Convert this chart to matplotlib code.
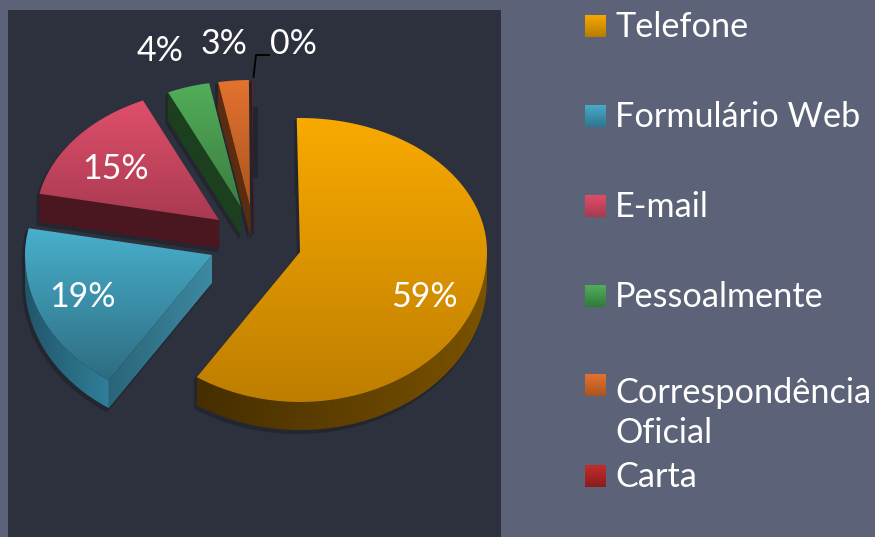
import numpy as np
import matplotlib
matplotlib.use("Agg")
import matplotlib.pyplot as plt
from matplotlib.colors import LinearSegmentedColormap
from matplotlib.patches import Polygon, Rectangle

categories = ["Telefone", "Formulário Web", "E-mail", "Pessoalmente", "Correspondência\nOficial", "Carta"]
shares = [59.3, 18.9, 15.0, 3.9, 2.8, 0.1]

# style per slice: top colour, bottom colour, rim colours (light, dark)
top_hi = ["#F9AA00", "#48B0CC", "#E04F6C", "#52AE5A", "#E4722F", "#6A2228"]
top_lo = ["#BE7E00", "#2E6C82", "#A83A50", "#3C7C41", "#A9551F", "#5A1C22"]
rim_a = ["#7A5200", "#2F7F98", "#4A1620", "#1C3F1E", "#5A2C10", "#3A1418"]
rim_b = ["#452E00", "#22566A", "#4A1620", "#1C3F1E", "#5A2C10", "#3A1418"]
swatch_hi = ["#F7A800", "#48ACC8", "#DE4E68", "#52AE5A", "#E4722F", "#C42C2C"]
swatch_lo = ["#B97B00", "#2F7590", "#A83A50", "#2F7A3A", "#A9551F", "#8A1C1C"]

# where each slice apex sits, and its radius scale
apex_x = [300, 212, 219, 241, 250, 253]
apex_y = [252, 255, 220, 207, 206, 206]
scale = [1.0, 1.0, 0.98, 0.94, 0.94, 0.94]
RX, RY_BACK, RY_FRONT, DEPTH = 187, 134, 150, 28

label_x = [424, 82, 116, 160, 224, 293]
label_y = [297, 297, 169, 51, 44, 44]
swatch_y = [37, 127, 217, 307, 396, 487]
legend_y = [37, 127, 217, 307, 443, 487]

BG = "#5C6277"
PANEL = "#2D313D"
SHADOW = "#22252E"
FONT = "Lato"

fig = plt.figure(figsize=(8.75, 5.37), dpi=100, facecolor=BG)
ax = fig.add_axes([0, 0, 1, 1])
ax.set_xlim(0, 875)
ax.set_ylim(537, 0)
ax.axis("off")
ax.add_patch(Rectangle((8, 10), 493, 527, fc=PANEL, ec="none", zorder=1))


def arc(i, a0, a1, drop=0):
    # angles in degrees clockwise from the top
    t = np.radians(np.linspace(a0, a1, max(int(abs(a1 - a0)) * 2, 2)))
    ry = np.where(np.cos(t) > 0, RY_BACK, RY_FRONT)
    xs = apex_x[i] + scale[i] * RX * np.sin(t)
    ys = apex_y[i] - scale[i] * ry * np.cos(t) + drop
    return np.column_stack([xs, ys])


def gradient(pts, c0, c1, z, horizontal=False):
    pts = np.asarray(pts)
    x0, y0 = pts.min(axis=0)
    x1, y1 = pts.max(axis=0)
    cmap = LinearSegmentedColormap.from_list("g", [c0, c1])
    ramp = np.linspace(0, 1, 256)
    ramp = ramp[None, :] if horizontal else ramp[:, None]
    im = ax.imshow(ramp, cmap=cmap, extent=(x0, x1, y1, y0), aspect="auto", zorder=z, interpolation="bilinear")
    im.set_clip_path(Polygon(pts, closed=True, transform=ax.transData))


def shadow(pts, z):
    ax.add_patch(Polygon(np.asarray(pts) + [-2, 3], closed=True, fc=SHADOW, ec=SHADOW, lw=1.5, alpha=0.8, zorder=z))


# faint dark marks behind the slices
ax.add_patch(Rectangle((252, 107), 6, 71, fc=SHADOW, ec="none", zorder=1.5))
ax.add_patch(Rectangle((294, 145), 4, 50, fc="#282B35", ec="none", zorder=1.5))

ends = np.cumsum(shares) * 3.6
starts = np.concatenate([[-1], ends[:-1]])  # the big slice leans slightly past the top
draw_order = [5, 4, 3, 2, 1, 0]  # far slices first, big slice last

for rank, i in enumerate(draw_order):
    z = 2 + rank
    top = np.vstack([[[apex_x[i], apex_y[i]]], arc(i, starts[i], ends[i])])

    # cut face on the start edge (the big slice starts at the back, so it has none)
    if i > 0:
        first = arc(i, starts[i], starts[i] + 1)[0]
        apex = [apex_x[i], apex_y[i]]
        face = [apex, first, first + [0, DEPTH], [apex[0], apex[1] + DEPTH]]
        shadow(face, z)
        if i == 1:
            gradient(face, "#2A6478", "#3E8AA2", z + 0.2, horizontal=True)
        else:
            ax.add_patch(Polygon(face, closed=True, fc=rim_a[i], ec=rim_a[i], lw=0.5, zorder=z + 0.2))

    # outer rim, only on the front half
    a0 = max(starts[i], 90)
    a1 = min(ends[i], 270)
    if a1 > a0:
        upper = arc(i, a0, a1)
        rim = np.vstack([upper, arc(i, a1, a0, drop=DEPTH)])
        shadow(rim, z)
        gradient(rim, rim_b[i], rim_a[i], z + 0.3, horizontal=True)

    shadow(top, z - 0.1)
    gradient(top, top_hi[i], top_lo[i], z + 0.5)

# leader line of the smallest slice
leader_x = [269, 256, apex_x[5] + 0.5]
leader_y = [55, 55, 77]
ax.plot(leader_x, leader_y, color="black", lw=1.3, zorder=20, solid_joinstyle="miter")

for x, y, v in zip(label_x, label_y, shares):
    ax.text(x, y, f"{v:.0f}%", color="white", fontsize=24.5, family=FONT, ha="center", va="center", zorder=21)

for y, c0, c1 in zip(swatch_y, swatch_hi, swatch_lo):
    gradient([(585, y - 22), (606, y - 22), (606, y), (585, y)], c0, c1, 10)

for y, name in zip(legend_y, categories):
    ax.text(615, y, name, color="white", fontsize=24.7, family=FONT, ha="left", va="baseline", linespacing=1.32, zorder=21)

ax.set_xlim(0, 875)
ax.set_ylim(537, 0)
fig.savefig("out.png", dpi=100, facecolor=BG)
